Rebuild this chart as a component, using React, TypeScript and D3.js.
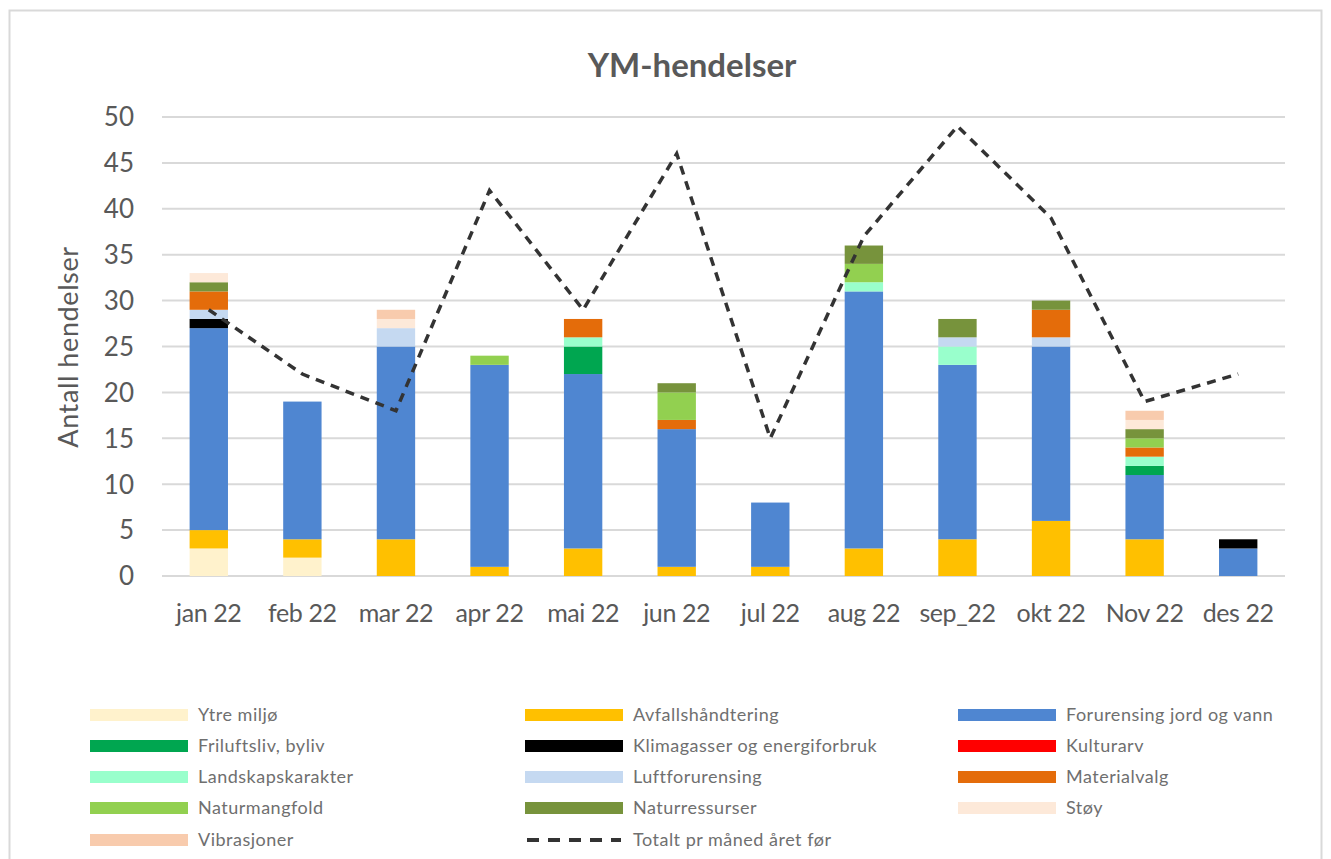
import * as d3 from 'd3'

const months = ['jan 22', 'feb 22', 'mar 22', 'apr 22', 'mai 22', 'jun 22', 'jul 22', 'aug 22', 'sep_22', 'okt 22', 'Nov 22', 'des 22']

const seriesNames = [
  'Ytre miljø', 'Avfallshåndtering', 'Forurensing jord og vann',
  'Friluftsliv, byliv', 'Klimagasser og energiforbruk', 'Kulturarv',
  'Landskapskarakter', 'Luftforurensing', 'Materialvalg',
  'Naturmangfold', 'Naturressurser', 'Støy',
  'Vibrasjoner',
]

const colors = [
  '#FFF2CC', '#FFC000', '#4F86D1',
  '#00A650', '#000000', '#FF0000',
  '#99FFCC', '#C5D9F1', '#E46C0A',
  '#92D050', '#77933C', '#FDE9D9',
  '#F8CBAD',
]

const ytreMiljo = [3, 2, 0, 0, 0, 0, 0, 0, 0, 0, 0, 0]
const avfall = [2, 2, 4, 1, 3, 1, 1, 3, 4, 6, 4, 0]
const forurensing = [22, 15, 21, 22, 19, 15, 7, 28, 19, 19, 7, 3]
const friluftsliv = [0, 0, 0, 0, 3, 0, 0, 0, 0, 0, 1, 0]
const klimagasser = [1, 0, 0, 0, 0, 0, 0, 0, 0, 0, 0, 1]
const kulturarv = [0, 0, 0, 0, 0, 0, 0, 0, 0, 0, 0, 0]
const landskap = [0, 0, 0, 0, 1, 0, 0, 1, 2, 0, 1, 0]
const luft = [1, 0, 2, 0, 0, 0, 0, 0, 1, 1, 0, 0]
const materialvalg = [2, 0, 0, 0, 2, 1, 0, 0, 0, 3, 1, 0]
const naturmangfold = [0, 0, 0, 1, 0, 3, 0, 2, 0, 0, 1, 0]
const naturressurser = [1, 0, 0, 0, 0, 1, 0, 2, 2, 1, 1, 0]
const stoy = [1, 0, 1, 0, 0, 0, 0, 0, 0, 0, 1, 0]
const vibrasjoner = [0, 0, 1, 0, 0, 0, 0, 0, 0, 0, 1, 0]

const totaltAretFor = [29, 22, 18, 42, 29, 46, 15, 37, 49, 39, 19, 22]

const yTicks = [0, 5, 10, 15, 20, 25, 30, 35, 40, 45, 50]

const seriesValues = [
  ytreMiljo, avfall, forurensing, friluftsliv, klimagasser, kulturarv,
  landskap, luft, materialvalg, naturmangfold, naturressurser, stoy, vibrasjoner,
]

function App() {
  const width = 1331
  const height = 859
  const font = 'Lato, "Open Sans", sans-serif'
  const textColor = '#595959'

  const x = d3.scaleBand<string>().domain(months).range([162, 1285]).paddingInner(0.59).paddingOuter(0.295)
  const y = d3.scaleLinear().domain([0, 50]).range([576, 117])

  const rows = months.map((m, i) => {
    const r: any = { month: m }
    seriesNames.forEach((s, j) => { r[s] = seriesValues[j][i] })
    return r
  })
  const stacked = d3.stack<any>().keys(seriesNames)(rows)

  const line = d3.line<number>()
    .x((_, i) => (x(months[i]) as number) + x.bandwidth() / 2)
    .y(d => y(d))

  const legendItems = [
    ...seriesNames.map((s, i) => ({ name: s, color: colors[i], dashed: false })),
    { name: 'Totalt pr måned året før', color: '#333', dashed: true },
  ]
  const colX = [90, 525, 958]
  const rowY = [715, 746, 777, 808, 840]

  return (
    <svg width={width} height={height} style={{ position: 'absolute', left: 0, top: 0 }}>
      <rect x={0} y={0} width={width} height={height} fill="white" />
      <rect x={9.5} y={10.5} width={1312} height={860} fill="none" stroke="#D9D9D9" strokeWidth={2} />

      <text x={692} y={77} textAnchor="middle" fontFamily={font} fontWeight="bold" fontSize={33} fill={textColor}>
        YM-hendelser
      </text>

      {yTicks.map(t => (
        <g key={t}>
          <line x1={162} x2={1285} y1={y(t)} y2={y(t)} stroke="#D9D9D9" strokeWidth={2} />
          <text x={134} y={y(t)} dy="0.36em" textAnchor="end" fontFamily={font} fontSize={26} fill={textColor}>
            {t}
          </text>
        </g>
      ))}

      <text transform={`translate(78,347) rotate(-90)`} textAnchor="middle" fontFamily={font} fontSize={27} letterSpacing={0.6} fill={textColor}>
        Antall hendelser
      </text>

      {stacked.map((layer, j) => (
        <g key={layer.key} fill={colors[j]}>
          {layer.map((d, i) => (
            d[1] - d[0] > 0 ? (
              <rect key={i} x={x(months[i])} y={y(d[1])} width={x.bandwidth()} height={y(d[0]) - y(d[1])} />
            ) : null
          ))}
        </g>
      ))}

      <path d={line(totaltAretFor) as string} fill="none" stroke="#333" strokeWidth={3.5} strokeDasharray="9,7" />

      {months.map(m => (
        <text key={m} x={(x(m) as number) + x.bandwidth() / 2} y={622} textAnchor="middle" fontFamily={font} fontSize={25} letterSpacing={-0.4} fill={textColor}>
          {m}
        </text>
      ))}

      {legendItems.map((it, i) => {
        const cx = colX[i % 3]
        const cy = rowY[Math.floor(i / 3)]
        return (
          <g key={it.name}>
            {it.dashed ? (
              <line x1={cx + 2} x2={cx + 96} y1={cy} y2={cy} stroke={it.color} strokeWidth={4} strokeDasharray="12,9" />
            ) : (
              <rect x={cx} y={cy - 6} width={98} height={12} fill={it.color} />
            )}
            <text x={cx + 108} y={cy} dy="0.35em" fontFamily={font} fontSize={18} letterSpacing={0.5} fill="#6f6f6f">
              {it.name}
            </text>
          </g>
        )
      })}
    </svg>
  )
}

export default App
